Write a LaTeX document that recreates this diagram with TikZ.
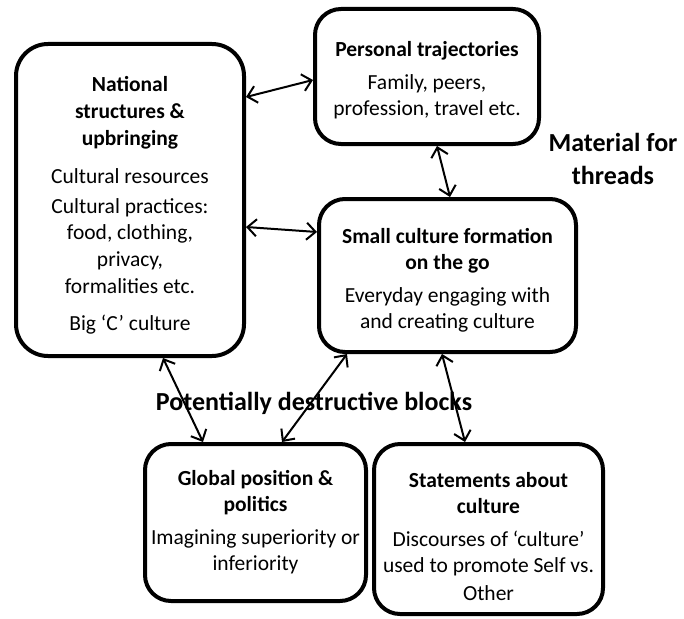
\documentclass[tikz,border=0pt]{standalone}
\usepackage{fontspec}
\setmainfont{Carlito}
\usetikzlibrary{arrows.meta}
\newcommand{\hd}[1]{{\bfseries #1}}
\newcommand{\up}[1]{\rule{0pt}{#1}}
\begin{document}
\begin{tikzpicture}[x=1pt,y=-1pt,
  box/.style={draw, line width=4pt, rounded corners=26pt, align=center, inner sep=0pt,
    font=\fontsize{21.5}{26}\selectfont},
  link/.style={line width=2pt, >={Straight Barb[length=9pt,width=17pt]}, <->},
  lbl/.style={font=\fontsize{26}{33}\selectfont\bfseries, align=center, inner sep=0pt}]
\useasboundingbox (0,0) rectangle (684,618);

\node[box, rounded corners=32pt, minimum width=228pt, minimum height=312pt,
      font=\fontsize{21.5}{26.8}\selectfont] (nat) at (130,200)
  {\up{26pt}\hd{National}\\\hd{structures \&}\\\hd{upbringing}\\[11pt]Cultural resources\\[3pt]
   Cultural practices:\\food, clothing,\\privacy,\\formalities etc.\\[10pt]Big ‘C’ culture};

\node[box, minimum width=224pt, minimum height=135pt] (pers) at (427,76.5)
  {\up{22pt}\hd{Personal trajectories}\\[7pt]Family, peers,\\profession, travel etc.};

\node[box, minimum width=257pt, minimum height=153pt] (small) at (447.5,275.5)
  {\up{24pt}\hd{Small culture formation}\\\hd{on the go}\\[7pt]Everyday engaging with\\and creating culture};

\node[box, minimum width=221pt, minimum height=157pt] (glob) at (255.5,522.5)
  {\hd{Global position \&}\\\hd{politics}\\[7pt]Imagining superiority or\\inferiority};

\node[box, minimum width=229pt, minimum height=170pt] (stat) at (488.5,529)
  {\up{30pt}\hd{Statements about}\\\hd{culture}\\[7pt]Discourses of ‘culture’\\used to promote Self vs.\\[2pt]Other};

\node[lbl] (mat) at (613,159) {Material for\\threads};
\node[lbl] (pot) at (314,403) {Potentially destructive blocks};

\draw[link] ([yshift=-55pt]nat.north east) -- ([yshift=-73pt]pers.north west);
\draw[link] ([yshift=-185pt]nat.north east) -- ([yshift=-35pt]small.north west);
\draw[link] ([xshift=124pt]pers.south west) -- ([xshift=133pt]small.north west);
\draw[link] ([xshift=149pt]nat.south west) -- ([xshift=60pt]glob.north west);
\draw[link] ([xshift=30pt]small.south west) -- ([xshift=139pt]glob.north west);
\draw[link] ([xshift=125pt]small.south west) -- ([xshift=93pt]stat.north west);
\end{tikzpicture}
\end{document}
